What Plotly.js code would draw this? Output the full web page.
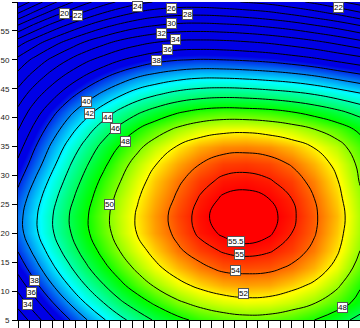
<!DOCTYPE html>
<html><head><meta charset="utf-8">
<script src="https://cdn.plot.ly/plotly-3.0.1.min.js"></script>
<style>html,body{margin:0;padding:0;background:#fff;overflow:hidden}#chart{width:360px;height:328px}</style>
</head><body><div id="chart"></div>
<script>
// grid coordinates (data units)
const xValues = [0, 1.5, 3, 4.5, 6, 7.5, 9, 10.5, 12, 14, 16, 18, 20, 22, 24, 26, 28, 30];
const yValues = [5, 8, 11, 14, 17, 20, 23, 26, 29, 32, 35, 38, 41, 44, 47, 50, 53, 56, 58, 60];
// z values, one row per y value
const zAt5  = [30.5,33.1,35.6,37.9,39.9,41.8,43.5,44.9,46.2,47.5,48.5,49.1,49.4,49.3,48.8,48.0,46.9,45.3];
const zAt8  = [32.8,35.4,37.9,40.1,42.2,44.0,45.7,47.1,48.3,49.7,50.6,51.2,51.5,51.4,50.9,50.1,48.9,47.4];
const zAt11 = [34.8,37.5,39.9,42.1,44.1,45.9,47.6,49.0,50.2,51.5,52.4,53.0,53.2,53.1,52.5,51.7,50.3,48.2];
const zAt14 = [36.7,39.2,41.6,43.7,45.7,47.5,49.0,50.4,51.6,52.8,53.7,54.3,54.4,54.3,53.8,52.9,51.5,49.3];
const zAt17 = [38.1,40.6,42.9,45.0,46.9,48.6,50.1,51.4,52.5,53.8,54.6,55.1,55.3,55.1,54.6,53.7,52.2,50.0];
const zAt20 = [39.2,41.6,43.8,45.8,47.7,49.3,50.8,52.1,53.2,54.3,55.2,55.6,55.8,55.6,55.0,54.1,52.6,50.4];
const zAt23 = [39.3,41.7,43.9,46.0,47.8,49.5,50.9,52.2,53.3,54.5,55.3,55.8,55.9,55.7,55.2,54.2,52.8,50.5];
const zAt26 = [38.7,41.2,43.4,45.5,47.4,49.1,50.6,51.9,53.0,54.2,55.1,55.6,55.7,55.5,55.0,54.0,52.5,50.3];
const zAt29 = [37.6,40.2,42.6,44.7,46.7,48.5,50.0,51.4,52.6,53.8,54.7,55.2,55.3,55.1,54.6,53.6,52.1,49.9];
const zAt32 = [36.4,39.0,41.5,43.8,45.8,47.6,49.3,50.7,51.9,53.1,54.0,54.6,54.7,54.5,53.9,52.9,51.6,49.6];
const zAt35 = [35.2,37.9,40.4,42.7,44.7,46.6,48.2,49.6,50.8,52.1,53.0,53.5,53.6,53.4,52.8,51.9,50.7,48.9];
const zAt38 = [33.9,36.6,39.0,41.2,43.2,45.0,46.6,48.0,49.1,50.3,51.1,51.5,51.6,51.3,50.8,50.0,49.0,47.6];
const zAt41 = [32.5,35.1,37.4,39.5,41.3,43.0,44.5,45.7,46.7,47.8,48.5,48.8,48.7,48.5,48.0,47.3,46.4,45.3];
const zAt44 = [30.8,33.2,35.3,37.3,39.0,40.5,41.8,43.0,43.8,44.7,45.2,45.4,45.3,45.0,44.6,44.0,43.2,42.3];
const zAt47 = [28.8,31.0,33.0,34.8,36.4,37.8,39.0,40.0,40.7,41.4,41.8,41.8,41.6,41.3,40.9,40.3,39.5,38.7];
const zAt50 = [26.6,28.6,30.5,32.1,33.6,34.8,35.9,36.7,37.4,37.9,38.1,38.0,37.8,37.5,37.0,36.4,35.6,34.8];
const zAt53 = [23.1,25.2,27.1,28.8,30.3,31.5,32.6,33.4,34.0,34.5,34.6,34.5,34.2,33.8,33.2,32.5,31.6,30.6];
const zAt56 = [18.0,20.4,22.5,24.3,25.9,27.3,28.4,29.3,29.9,30.4,30.5,30.3,30.0,29.5,28.9,28.0,27.1,25.9];
const zAt58 = [14.1,16.7,19.0,21.0,22.7,24.2,25.4,26.4,27.1,27.5,27.6,27.4,27.0,26.5,25.7,24.8,23.7,22.4];
const zAt60 = [10.1,12.9,15.4,17.6,19.5,21.1,22.4,23.4,24.1,24.6,24.6,24.3,23.9,23.4,22.6,21.6,20.4,19.1];
// contour labels as they appear on the chart
const labelText = ['20','22','24','26','28','30','32','34','36','38','22','40','42','44','46','48','50','38','36','34','55.5','55','54','52','48'];
const labelX = [4.10,5.24,10.47,13.45,14.91,13.45,12.58,13.83,13.07,12.19,28.07,6.00,6.29,7.81,8.54,9.42,8.04,1.46,1.17,0.79,19.10,19.45,19.04,19.82,28.46];
const labelY = [57.99,57.65,59.26,58.86,57.87,56.26,54.53,53.49,51.76,49.80,59.03,42.87,40.80,40.10,38.10,35.95,25.00,11.85,9.83,7.70,18.65,16.35,13.58,9.55,7.13];
const yTicks = [5,10,15,20,25,30,35,40,45,50,55,60];

const z = [zAt5,zAt8,zAt11,zAt14,zAt17,zAt20,zAt23,zAt26,zAt29,zAt32,zAt35,zAt38,zAt41,zAt44,zAt47,zAt50,zAt53,zAt56,zAt58,zAt60];
const scale = [[0,'rgb(0,0,230)'],[0.29,'rgb(0,255,255)'],[0.58,'rgb(0,255,0)'],[0.8,'rgb(255,255,0)'],[1,'rgb(255,0,0)']];

const main = {
  type:'contour', x:xValues, y:yValues, z:z,
  colorscale:scale, zauto:false, zmin:37, zmax:55.5, showscale:false,
  autocontour:false,
  contours:{start:10, end:54, size:2, coloring:'heatmap', showlabels:false},
  line:{color:'#000', width:1, smoothing:1.3},
  hoverinfo:'skip'
};
const inner = {
  type:'contour', x:xValues, y:yValues, z:z, showscale:false,
  autocontour:false,
  contours:{start:55, end:55.5, size:0.5, coloring:'none', showlabels:false},
  line:{color:'#000', width:1, smoothing:1.3},
  hoverinfo:'skip'
};
const annotations = labelText.map((t,i)=>({
  x:labelX[i], y:labelY[i], xref:'x', yref:'y', text:t, showarrow:false,
  font:{family:'Liberation Sans, Arial, sans-serif', size:8, color:'#000'},
  bgcolor:'#fff', bordercolor:'#555', borderwidth:1, borderpad:0
}));
const layout = {
  width:360, height:328, margin:{l:18, r:0, t:2, b:8, pad:0},
  paper_bgcolor:'#fff', plot_bgcolor:'#fff', showlegend:false,
  xaxis:{range:[0,30], dtick:1, tick0:0, ticks:'outside', ticklen:7, tickcolor:'#000', tickwidth:1,
         showticklabels:false, showgrid:false, zeroline:false, showline:true, linecolor:'#000', linewidth:1},
  yaxis:{range:[5,60], tickvals:yTicks, ticks:'outside', ticklen:5, tickcolor:'#000', tickwidth:1,
         showgrid:false, zeroline:false, showline:true, linecolor:'#000', linewidth:1,
         tickfont:{family:'Liberation Sans, Arial, sans-serif', size:8, color:'#222'}, ticklabelstandoff:1},
  annotations:annotations
};
Plotly.newPlot('chart',[main,inner],layout,{staticPlot:true, displayModeBar:false});
</script></body></html>
